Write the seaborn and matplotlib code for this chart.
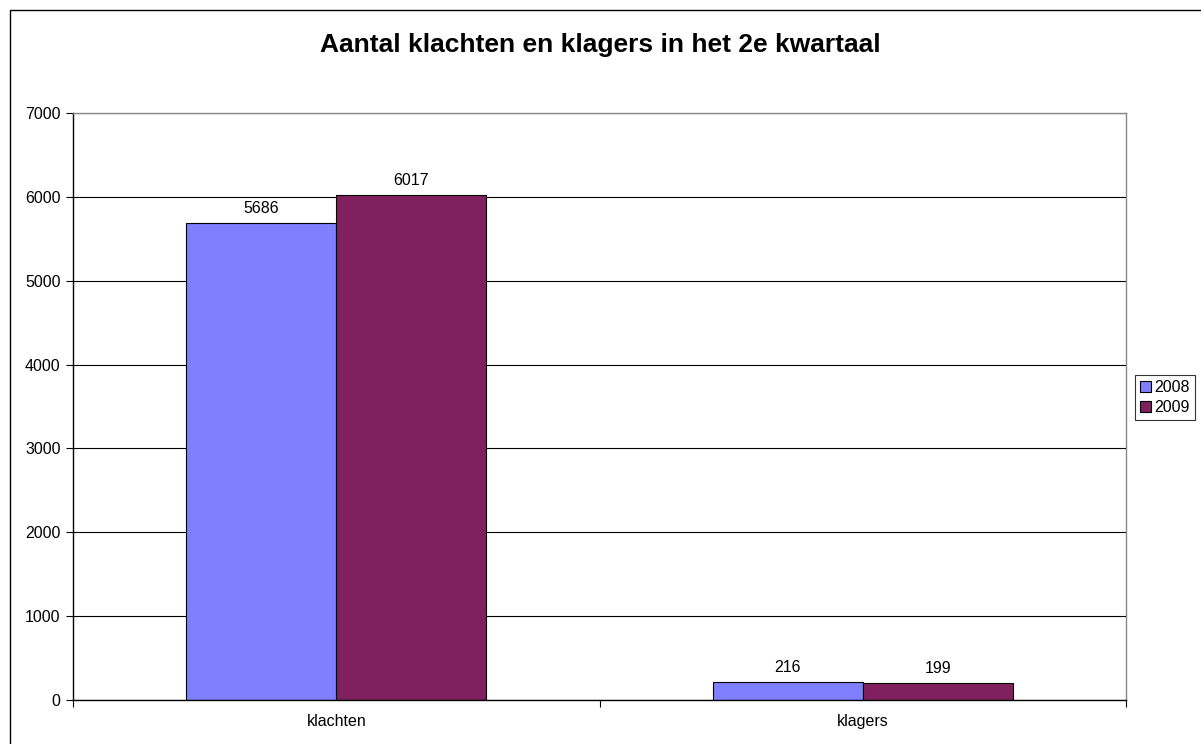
import matplotlib
matplotlib.use("Agg")
import matplotlib.pyplot as plt
import seaborn as sns
import pandas as pd
from matplotlib.patches import Rectangle

categories = ["klachten", "klagers"]
years = ["2008", "2009"]
values_2008 = [5686, 216]
values_2009 = [6017, 199]
yticks = [0, 1000, 2000, 3000, 4000, 5000, 6000, 7000]

df = pd.DataFrame({
    "categorie": categories * 2,
    "jaar": [years[0]] * 2 + [years[1]] * 2,
    "aantal": values_2008 + values_2009,
})

sns.set_style("white")
plt.rcParams["font.family"] = ["Liberation Sans", "DejaVu Sans"]
plt.rcParams["text.color"] = "black"
plt.rcParams["xtick.color"] = "black"
plt.rcParams["ytick.color"] = "black"

fig = plt.figure(figsize=(12.01, 7.44), dpi=100)
ax = fig.add_axes([73 / 1201, 1 - 700 / 744, (1126 - 73) / 1201, (700 - 113) / 744])

palette = {"2008": "#8080FF", "2009": "#80205F"}
sns.barplot(data=df, x="categorie", y="aantal", hue="jaar", palette=palette,
            width=0.57, edgecolor="black", linewidth=0.8, saturation=1, ax=ax)

for c in ax.containers:
    ax.bar_label(c, labels=[str(int(v)) for v in c.datavalues], padding=5, fontsize=11.5)

ax.set_xlim(-0.5, 1.5)
ax.set_ylim(0, 7000)
ax.set_yticks(yticks)
ax.yaxis.grid(True, color="black", linewidth=0.8)
ax.set_axisbelow(True)
ax.set_xlabel("")
ax.set_ylabel("")
ax.tick_params(axis="y", length=5, width=0.8, labelsize=11.5, pad=4, left=True)
ax.tick_params(axis="x", which="major", length=0, labelsize=11.5, pad=10)
ax.set_xticks([-0.5, 0.5, 1.5], minor=True)
ax.tick_params(axis="x", which="minor", length=5, width=0.8, bottom=True)

for s in ["left", "bottom"]:
    ax.spines[s].set_color("black")
    ax.spines[s].set_linewidth(1.0)
for s in ["right", "top"]:
    ax.spines[s].set_color("#888888")
    ax.spines[s].set_linewidth(1.0)

leg = ax.legend(loc="center left", bbox_to_anchor=(1.009, 0.515), frameon=True, fontsize=11.5,
                handlelength=0.7, handleheight=0.7, handletextpad=0.2, borderpad=0.3,
                labelspacing=0.35, borderaxespad=0, fancybox=False)
leg.get_frame().set_edgecolor("black")
leg.get_frame().set_linewidth(0.8)

fig.text(0.5, 1 - 45 / 744, "Aantal klachten en klagers in het 2e kwartaal",
         ha="center", va="center", fontsize=19, fontweight="bold")

fig.patches.append(Rectangle((10 / 1201, -0.1), 1.2, 1 - 10 / 744 + 0.1,
                             transform=fig.transFigure, fill=False,
                             edgecolor="black", linewidth=1.0))

fig.savefig("out.png", dpi=100)
